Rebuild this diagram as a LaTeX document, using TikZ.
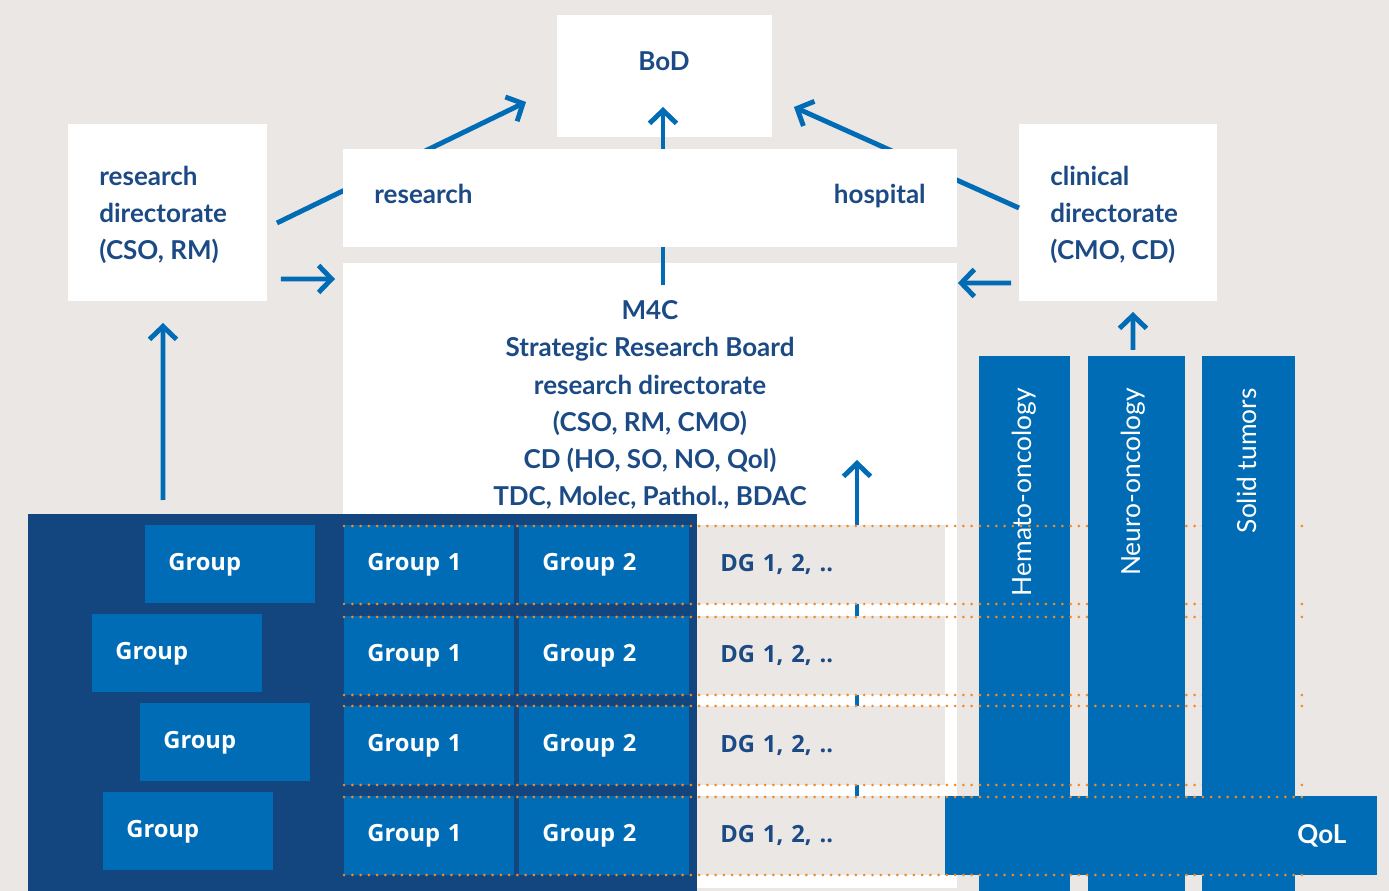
\documentclass[tikz,border=0pt]{standalone}
\usepackage{fontspec}
\setmainfont{Lato}
\newfontfamily\grpfont{Open Sans}
\usetikzlibrary{arrows.meta,calc}

\definecolor{bgsand}{HTML}{EBE7E4}
\definecolor{navyblue}{HTML}{13457F}
\definecolor{midblue}{HTML}{006CB5}
\definecolor{darktext}{HTML}{1C4A85}
\definecolor{dotorange}{HTML}{F28A26}

\tikzset{
    panel/.style={fill=white, inner sep=0, outer sep=0, anchor=north west},
    txt/.style={text=darktext, inner sep=0, font=\bfseries\fontsize{14.8}{21.2}\selectfont},
    cell/.style={fill=midblue, text=white, anchor=north west, inner xsep=0.46cm, inner ysep=0,
        text width=2.48cm, minimum height=1.58cm, align=left, font=\grpfont\bfseries\fontsize{13.5}{16}\selectfont},
    dgcell/.style={cell, fill=bgsand, text=darktext, text width=4.04cm},
    column/.style={fill=midblue, inner sep=0, outer sep=0, anchor=north west, minimum height=10.7cm},
    coltxt/.style={text=white, inner sep=0, rotate=90, anchor=east, font=\fontsize{15}{17}\selectfont},
    arr/.style={draw=midblue, line width=2.8pt, -{Straight Barb[length=2.6mm, width=5.4mm]}},
    dots/.style={draw=dotorange, line width=1.7pt, dash pattern=on 0pt off 4.7pt, line cap=round}
}

\begin{document}
\begin{tikzpicture}[x=0.02cm, y=-0.02cm]
    \fill[bgsand] (0,0) rectangle (1389,891);
    \useasboundingbox (0,0) rectangle (1389,891);

    \node[panel, minimum width=3.98cm, minimum height=3.54cm] (resdir) at (68,124) {};
    \node[panel, minimum width=3.96cm, minimum height=3.54cm] (clindir) at (1019,124) {};
    \node[panel, minimum width=4.3cm, minimum height=2.44cm] (bod) at (557,15) {};
    \node[panel, minimum width=12.28cm, minimum height=12.5cm] (m4c) at (343,263) {};

    \node[txt, anchor=base] (bodtxt) at (664,71) {BoD};
    \node[txt, anchor=west, align=left] (resdirtxt) at (99,215) {research\\directorate\\(CSO, RM)};
    \node[txt, anchor=west, align=left] (clindirtxt) at (1050,215) {clinical\\directorate\\(CMO, CD)};
    \node[txt, align=center] (m4ctxt) at (650,405) {M4C\\Strategic Research Board\\research directorate\\(CSO, RM, CMO)\\CD (HO, SO, NO, Qol)\\TDC, Molec, Pathol., BDAC};

    \draw[arr] ($(resdir.east)+(10,10.5)$) -- ($(bod.west)+(-31,26)$);
    \draw[arr] ($(clindir.west)+(0,-4.5)$) -- ($(bod.east)+(22,31)$);
    \draw[arr] ($(bod.south |- m4c.north)+(-1.5,22)$) -- ($(bod.south)+(-1.5,-30)$);

    \node[panel, minimum width=12.28cm, minimum height=1.96cm] (rh) at (343,149) {};
    \node[txt, anchor=base west] (restxt) at (374,204) {research};
    \node[txt, anchor=base east] (hosptxt) at (926,204) {hospital};

    \draw[arr] ($(resdir.south east)+(14,-22)$) -- ($(m4c.north west)+(-8,16)$);
    \draw[arr] ($(clindir.south west)+(-8,-18)$) -- ($(m4c.north east)+(1,20)$);

    \node[panel, fill=navyblue, minimum width=13.38cm, minimum height=7.54cm] (navy) at (28,514) {};
    \draw[arr] ($(navy.north west)+(135,-14)$) -- ($(resdir.south)+(-4.5,22)$);

    \foreach \x/\y/\nm in {145/525/1, 92/614/2, 140/703/3, 103/792/4}
        \node[cell, minimum height=1.56cm] (grp\nm) at (\x,\y) {Group};

    \coordinate (m4ctip) at ($(m4c.north west)+(514,197)$);
    \draw[arr] ($(m4c.south west)+(514,-13)$) -- (m4ctip);

    \foreach \y/\nm in {525/1, 616/2, 706/3, 796/4} {
        \node[cell] (ga\nm) at (344,\y) {Group 1};
        \node[cell] (gb\nm) at (519,\y) {Group 2};
        \node[dgcell] (dg\nm) at (697,\y) {DG 1, 2, ..};
    }

    \node[column, minimum width=1.82cm] (hemato) at (979,356) {};
    \node[coltxt] (hematotxt) at ($(hemato.north)+(0,32)$) {Hemato-oncology};
    \foreach \y in {526, 604, 617, 695}
        \draw[dots] (344,\y) -- (1305,\y);

    \node[column, minimum width=1.94cm] (neuro) at (1088,356) {};
    \node[coltxt] (neurotxt) at ($(neuro.north)+(-3,32)$) {Neuro-oncology};
    \draw[arr] ($(neuro.north)+(-3.5,-6)$) -- ($(clindir.south)+(15,11)$);
    \foreach \y in {706, 785}
        \draw[dots] (344,\y) -- (1305,\y);

    \node[column, minimum width=1.86cm] (solid) at (1202,356) {};
    \node[coltxt] (solidtxt) at ($(solid.north)+(-2,32)$) {Solid tumors};

    \node[cell, text width=7.4cm, inner xsep=0.62cm, align=right, minimum height=1.58cm,
        font=\bfseries\fontsize{14.8}{16}\selectfont] (qol) at (945,796) {QoL};
    \foreach \y in {797, 875}
        \draw[dots] (344,\y) -- (1305,\y);
\end{tikzpicture}
\end{document}
